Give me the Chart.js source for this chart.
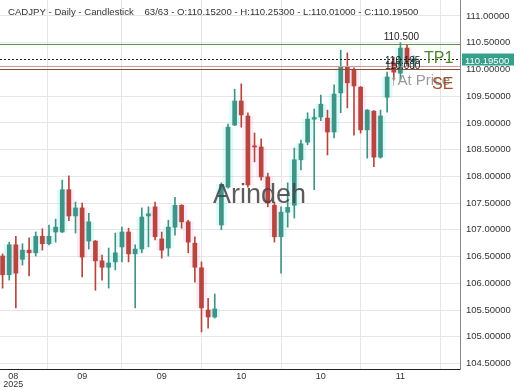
<!DOCTYPE html>
<html><head><meta charset="utf-8">
<script src="https://cdn.jsdelivr.net/npm/chart.js@4.4.1/dist/chart.umd.min.js"></script>
<style>html,body{margin:0;padding:0;background:#fff;}#wrap{width:520px;height:390px;}</style>
</head><body><div id="wrap"><canvas id="c" width="520" height="390"></canvas></div>
<script>
const titleText = "CADJPY - Daily - Candlestick    63/63 - O:110.15200 - H:110.25300 - L:110.01000 - C:110.19500";
const opens = [106.51,106.16,106.72,106.45,106.62,106.57,106.88,106.74,106.96,106.96,107.75,107.26,107.41,106.79,106.79,106.42,106.30,106.40,106.68,106.96,106.55,106.64,107.26,107.43,106.83,106.66,107.05,107.46,107.15,106.75,106.29,105.50,105.37,107.09,107.80,108.96,109.41,109.13,108.57,108.55,107.99,107.46,106.87,107.33,107.46,108.31,108.64,109.07,109.11,109.09,108.83,109.56,110.05,109.99,109.67,108.87,109.22,108.36,109.48,110.12,109.93,110.40,110.152];
const highs = [106.55,106.77,106.88,106.74,106.85,106.96,107.02,107.09,107.20,107.93,108.01,107.52,107.50,107.31,106.80,106.53,106.66,106.94,107.05,107.03,106.72,107.41,107.43,107.52,106.96,107.18,107.61,107.47,107.18,106.87,106.40,105.72,105.80,107.88,108.98,109.63,109.73,109.19,108.81,108.70,108.06,107.52,107.43,107.88,108.53,108.68,109.19,109.26,109.52,109.24,109.71,110.36,110.31,110.03,109.68,109.25,109.23,109.24,109.95,110.23,110.50,110.46,110.253];
const lows = [105.91,106.06,105.54,106.34,106.14,106.51,106.62,106.72,106.77,106.95,107.17,106.94,106.12,106.64,105.87,106.06,105.91,106.25,106.40,106.40,105.54,106.57,106.68,106.81,106.47,106.51,106.90,107.03,106.57,106.02,105.09,105.16,105.35,107.00,107.78,108.95,108.92,107.80,108.27,107.93,107.43,106.77,106.19,107.05,107.22,108.12,108.59,107.75,109.04,108.40,108.72,109.19,109.28,108.77,108.81,108.34,108.18,108.34,109.20,109.80,109.80,110.05,110.01];
const closes = [106.16,106.72,106.19,106.62,106.57,106.88,106.74,106.88,107.05,107.75,107.26,107.41,106.49,107.15,106.42,106.30,106.38,106.57,106.96,106.55,106.64,107.24,107.30,106.87,106.62,107.05,107.46,107.15,106.77,106.30,105.54,105.37,105.52,107.85,108.92,109.41,109.15,107.84,108.55,107.99,107.50,106.87,107.33,107.42,108.31,108.61,109.07,109.10,109.35,108.83,109.54,110.05,109.75,109.69,108.87,109.24,108.36,109.13,109.86,109.95,110.40,110.14,110.195];
const xTickIndex = [1.6, 12, 24, 36, 48, 60];
const xTickLabels = [["08","2025"], "09", "09", "10", "10", "11"];
const yTicks = [104.5,105,105.5,106,106.5,107,107.5,108,108.5,109,109.5,110,110.5,111];
const tp1Level = 110.48;
const seLevel = 110.00;
const entryLevel = 110.06;
const lastPrice = 110.195;
const highMarkIndex = 60;

const FONT = '"Liberation Sans", Arial, sans-serif';
const UP = '#3f9486', DOWN = '#b5473e';
const isUp = i => closes[i] >= opens[i];
const idx = opens.map((_, i) => i);
const bodyData = idx.map(i => ({x: i, y: [opens[i], closes[i]]}));
const wickData = idx.map(i => ({x: i, y: [lows[i], highs[i]]}));
const col = c => isUp(c.dataIndex) ? UP : DOWN;

const overlay = {
  id: 'overlay',
  afterDatasetsDraw(chart) {
    const {ctx, chartArea: a, scales: {x, y}} = chart;
    const hline = (v, color, dash, w) => {
      const py = Math.round(y.getPixelForValue(v)) + 0.5;
      ctx.save(); ctx.strokeStyle = color; ctx.lineWidth = w || 1; ctx.setLineDash(dash || []);
      ctx.beginPath(); ctx.moveTo(a.left, py); ctx.lineTo(a.right, py); ctx.stroke(); ctx.restore();
      return py;
    };
    const yTp = hline(tp1Level, '#5e9142');
    const yLast = hline(lastPrice, '#222', [2, 2]);
    const yEn = hline(entryLevel, '#c99aa6');
    const ySe = hline(seLevel, '#8e4b2e');
    ctx.save();
    ctx.textBaseline = 'alphabetic';
    ctx.font = '27px ' + FONT; ctx.fillStyle = 'rgba(70,70,70,0.88)';
    ctx.fillText('Arindeh', 213, 203);
    const hx = x.getPixelForValue(highMarkIndex);
    ctx.font = '10px ' + FONT; ctx.fillStyle = '#222'; ctx.textAlign = 'center';
    ctx.fillText(highs[highMarkIndex].toFixed(3), hx + 1, y.getPixelForValue(highs[highMarkIndex]) - 3);
    ctx.textAlign = 'left';
    ctx.fillText(lastPrice.toFixed(3), 385, yLast + 4);
    ctx.fillText(seLevel.toFixed(3), 385, ySe - 1);
    ctx.font = '16px ' + FONT;
    ctx.fillStyle = '#4c8a2a'; ctx.fillText('TP1', 424, yTp + 18);
    ctx.fillStyle = '#9a9a9a'; ctx.font = '15px ' + FONT; ctx.fillText('↑At Price', 390, ySe + 15);
    ctx.fillStyle = '#a0502e'; ctx.font = '16px ' + FONT; ctx.fillText('SE', 432, ySe + 19);
    ctx.font = '9.6px ' + FONT; ctx.fillStyle = '#333';
    ctx.fillText(titleText, 8, 15);
    ctx.fillStyle = '#35a08c';
    ctx.fillRect(a.right + 2, yLast - 6, 52, 12);
    ctx.fillStyle = '#fff'; ctx.font = '9.5px ' + FONT;
    ctx.fillText(lastPrice.toFixed(5), a.right + 5, yLast + 4);
    ctx.restore();
  }
};

new Chart(document.getElementById('c'), {
  type: 'bar',
  data: { datasets: [
    {label: 'halo', data: bodyData, backgroundColor: c => isUp(c.dataIndex) ? 'rgba(0,225,225,0.13)' : 'rgba(255,60,170,0.10)', barThickness: 10, grouped: false, order: 3, minBarLength: 3},
    {label: 'wick', data: wickData, backgroundColor: col, barThickness: 1, grouped: false, order: 2},
    {label: 'body', data: bodyData, backgroundColor: col, barThickness: 4, grouped: false, order: 1, minBarLength: 1}
  ]},
  options: {
    responsive: false, animation: false,
    layout: {padding: 0},
    plugins: {legend: {display: false}, tooltip: {enabled: false}, title: {display: false}},
    scales: {
      x: {type: 'linear', min: -0.39, max: 68.99, offset: false,
        afterBuildTicks: s => { s.ticks = xTickIndex.map(v => ({value: v})); },
        ticks: {callback: (v, i) => xTickLabels[i], autoSkip: false, maxRotation: 0, color: '#333', font: {size: 9, family: FONT, lineHeight: 0.95}, padding: 3},
        grid: {color: c => c.index === 0 ? 'rgba(0,0,0,0)' : '#e6e6e6', drawTicks: false},
        border: {color: '#222', width: 1},
        afterFit: s => { s.height = 21; s.paddingLeft = 0; s.paddingRight = 0; }
      },
      y: {position: 'right', min: 104.397, max: 111.299,
        afterBuildTicks: s => { s.ticks = yTicks.map(v => ({value: v})); },
        ticks: {callback: v => Number(v).toFixed(5), color: '#333', font: {size: 9.5, family: FONT}, padding: 6},
        grid: {color: '#e6e6e6', drawTicks: false},
        border: {color: '#888', width: 1},
        afterFit: s => { s.width = 60; s.paddingTop = 0; s.paddingBottom = 0; }
      }
    }
  },
  plugins: [overlay]
});
</script></body></html>
